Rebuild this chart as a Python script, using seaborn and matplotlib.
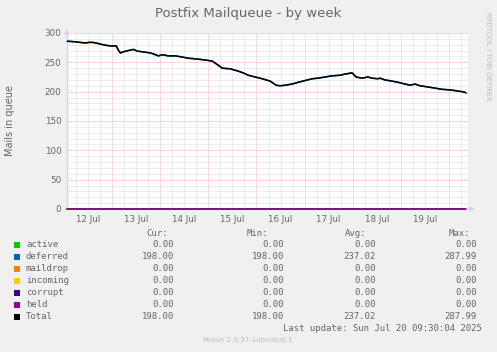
import numpy as np
import pandas as pd
import matplotlib
matplotlib.use("Agg")
import matplotlib.pyplot as plt
import seaborn as sns

# hours since 12 Jul 00:00
hours = [1.7, 5.7, 8.0, 10.7, 12.5, 14.2, 16.0, 18.2, 21.0, 23.2, 26.1, 27.1, 28.1,
         29.6, 32.1, 34.6, 36.6, 39.1, 43.1, 45.6, 47.1, 49.1, 52.0, 55.5, 59.0,
         62.0, 65.5, 70.5, 74.0, 77.0, 78.9, 82.9, 86.9, 89.4, 91.9, 95.4, 98.9,
         102.8, 105.8, 107.8, 110.3, 113.8, 116.8, 120.3, 123.8, 126.7, 130.2,
         133.7, 137.7, 140.2, 143.7, 145.7, 148.7, 151.6, 153.6, 156.6, 157.6,
         160.1, 163.6, 166.6, 170.1, 172.6, 175.1, 177.6, 181.6, 185.1, 188.6,
         192.6, 196.5, 199.5, 200.5]
total = [286, 285, 284, 283, 284, 284, 283, 281, 279, 278, 278, 271, 266,
         268, 270, 272, 269, 268, 266, 263, 261, 263, 261, 261, 259,
         257, 256, 254, 252, 245, 240, 239, 235, 232, 228, 225, 222,
         218, 211, 210, 211, 213, 216, 219, 222, 223, 225,
         227, 228, 230, 232, 225, 223, 225, 223, 222, 223,
         220, 218, 216, 213, 211, 213, 210, 208, 206, 204,
         203, 201, 199.5, 198]

series_names = ["active", "deferred", "maildrop", "incoming", "corrupt", "held", "Total"]
series_colors = ["#00CC00", "#0066B3", "#FF8000", "#FFCC00", "#330099", "#990099", "#000000"]
cur_vals = [0.00, 198.00, 0.00, 0.00, 0.00, 0.00, 198.00]
min_vals = [0.00, 198.00, 0.00, 0.00, 0.00, 0.00, 198.00]
avg_vals = [0.00, 237.02, 0.00, 0.00, 0.00, 0.00, 237.02]
max_vals = [0.00, 287.99, 0.00, 0.00, 0.00, 0.00, 287.99]

day_labels = ["12 Jul", "13 Jul", "14 Jul", "15 Jul", "16 Jul", "17 Jul", "18 Jul", "19 Jul"]
y_ticks = [0, 50, 100, 150, 200, 250, 300]

W, H = 497, 352
FONT = "#666666"

sns.set_theme(style="white")
plt.rcParams["font.family"] = ["DejaVu Sans"]

rows = []
for name in series_names:
    if name in ("deferred", "Total"):
        vals = total
    else:
        vals = [0.0] * len(hours)
    for h, v in zip(hours, vals):
        rows.append({"hour": h, "value": v, "series": name})
df = pd.DataFrame(rows)

fig = plt.figure(figsize=(W / 100, H / 100), dpi=100, facecolor="#F0F0F0")
ax = fig.add_axes([67 / W, 143 / H, 401 / W, 176 / H])
ax.set_facecolor("white")

x0, x1 = 1.5, 201.5
ax.set_xlim(x0, x1)
ax.set_ylim(0, 300)

# rrdtool-like dotted grid
for h in np.arange(6, x1, 6):
    major = (h % 24 == 0)
    ax.axvline(h, color="#F4B4B4" if major else "#DCDCDC", lw=0.72,
               ls=(0, (1, 1)), zorder=0)
for v in range(10, 301, 10):
    major = (v % 50 == 0)
    ax.axhline(v, color="#F4B4B4" if major else "#DCDCDC", lw=0.72,
               ls=(0, (1, 1)), zorder=0)

sns.lineplot(data=df, x="hour", y="value", hue="series", hue_order=series_names,
             palette=series_colors, linewidth=1.1, legend=False, ax=ax,
             clip_on=False, zorder=3)

for sp in ax.spines.values():
    sp.set_visible(False)

# axis lines with arrows
axis_col = "#CFD6F8"
ax.plot([x0, x0], [0, 300], color=axis_col, lw=1, clip_on=False, zorder=1)
ax.annotate("", xy=(0, 1.04), xytext=(0, 0.99), xycoords="axes fraction",
            arrowprops=dict(arrowstyle="-|>", color=axis_col, lw=1, mutation_scale=7))
ax.annotate("", xy=(1.025, 0), xytext=(0.99, 0), xycoords="axes fraction",
            arrowprops=dict(arrowstyle="-|>", color=axis_col, lw=1, mutation_scale=7))

ax.set_xticks([12 + 24 * i for i in range(len(day_labels))])
ax.set_xticklabels(day_labels)
ax.set_yticks(y_ticks)
ax.tick_params(axis="both", length=0, labelsize=6.3, colors=FONT, pad=4)
ax.set_xlabel("")
ax.set_ylabel("Mails in queue", fontsize=7, color=FONT)
ax.yaxis.set_label_coords(-52 / 401, 0.5)

def px(x, y):
    return x / W, 1 - y / H

fig.text(*px(248, 13), "Postfix Mailqueue - by week", ha="center", va="center",
         fontsize=9.5, color=FONT)
fig.text(*px(488, 56), "RRDTOOL / TOBI OETIKER", ha="center", va="center",
         rotation=270, fontsize=5, color="#BBBBBB")

mono = "DejaVu Sans Mono"
fs = 6.5
col_right = [174, 284, 376, 477]
headers = ["Cur:", "Min:", "Avg:", "Max:"]
header_right = [168, 268, 366, 470]
for hdr, xr in zip(headers, header_right):
    fig.text(*px(xr, 233), hdr, ha="right", va="center", family=mono, fontsize=fs, color=FONT)

for i, name in enumerate(series_names):
    yy = 244.5 + 12 * i
    fig.patches.append(plt.Rectangle(px(14, yy + 3), 6 / W, 6 / H, transform=fig.transFigure,
                                     facecolor=series_colors[i], edgecolor="none"))
    fig.text(*px(26, yy), name, ha="left", va="center", family=mono, fontsize=fs, color=FONT)
    for vals, xr in zip([cur_vals, min_vals, avg_vals, max_vals], col_right):
        fig.text(*px(xr, yy), f"{vals[i]:.2f}", ha="right", va="center",
                 family=mono, fontsize=fs, color=FONT)

fig.text(*px(482, 328.5), "Last update: Sun Jul 20 09:30:04 2025", ha="right", va="center",
         family=mono, fontsize=fs, color=FONT)
fig.text(*px(248, 340), "Munin 2.0.37-1ubuntu0.1", ha="center", va="center",
         fontsize=5, color="#BBBBBB")

fig.savefig("out.png", dpi=100, facecolor=fig.get_facecolor())
